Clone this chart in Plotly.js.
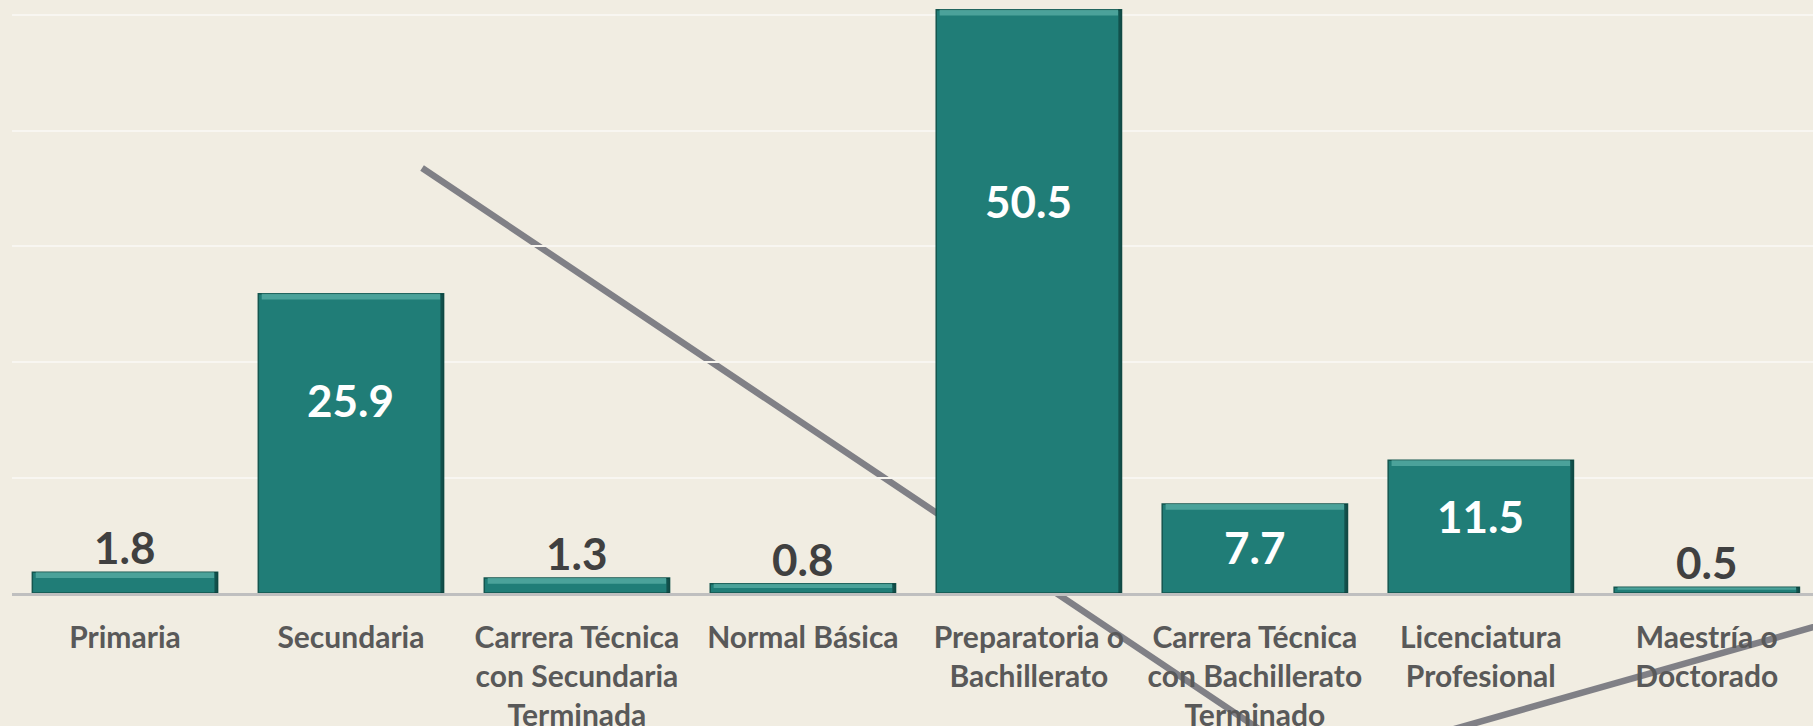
<!DOCTYPE html>
<html>
<head>
<meta charset="utf-8">
<script src="https://cdn.plot.ly/plotly-3.0.1.min.js"></script>
<style>
  html, body { margin: 0; padding: 0; background: #F1EDE2; }
  #chart { width: 1813px; height: 726px; }
</style>
</head>
<body>
<div id="chart"></div>
<script>
// ---- data ----
const categories = [
  "Primaria",
  "Secundaria",
  "Carrera Técnica<br>con Secundaria<br>Terminada",
  "Normal Básica",
  "Preparatoria o<br>Bachillerato",
  "Carrera Técnica<br>con Bachillerato<br>Terminado",
  "Licenciatura<br>Profesional",
  "Maestría o<br>Doctorado"
];
const values = [1.8, 25.9, 1.3, 0.8, 50.5, 7.7, 11.5, 0.5];
const valueLabels = ["1.8", "25.9", "1.3", "0.8", "50.5", "7.7", "11.5", "0.5"];

// ---- style ----
const BG = "#F1EDE2";
const BAR = "#207D77";
const FONT = "Lato, 'Open Sans', sans-serif";
const INSIDE_MIN = 5;
const BAR_W = 0.82;

const xIdx = categories.map((_, i) => i);

const bars = {
  type: "bar",
  x: xIdx,
  y: values,
  width: BAR_W,
  marker: { color: BAR, line: { color: "#15564F", width: 1.5 } },
  hoverinfo: "skip",
  showlegend: false
};

// bevel: light strip at the top of each bar
const strip = values.map(v => Math.min(0.5, v * 0.45));
const topBevel = {
  type: "bar",
  x: xIdx,
  y: strip,
  base: values.map((v, i) => v - strip[i]),
  width: BAR_W - 0.03,
  marker: { color: "rgba(90,175,166,0.75)", line: { width: 0 } },
  hoverinfo: "skip",
  showlegend: false
};
// bevel: dark strip on the right edge of each bar
const rightBevel = {
  type: "bar",
  x: xIdx,
  y: values,
  width: 0.014,
  offset: BAR_W / 2 - 0.014,
  marker: { color: "rgba(8,45,42,0.55)", line: { width: 0 } },
  hoverinfo: "skip",
  showlegend: false
};

const annotations = values.map((v, i) => {
  const inside = v >= INSIDE_MIN;
  return {
    x: i, xref: "x",
    y: inside ? v * 0.7 - 1.4 : v,
    yref: "y",
    text: "<b>" + valueLabels[i] + "</b>",
    showarrow: false,
    yanchor: inside ? "middle" : "bottom",
    yshift: inside ? 0 : -3,
    font: { family: FONT, size: 44, color: inside ? "#FFFFFF" : "#404040" }
  };
});

// decorative grey stroke drawn across the chart (paper coords)
const strokePath = "M 0.2277 0.7167 L 0.7246 -0.2951 L 1.0483 -0.016";

const layout = {
  width: 1813,
  height: 726,
  margin: { l: 12, r: 0, t: 0, b: 133, pad: 0 },
  paper_bgcolor: BG,
  plot_bgcolor: "rgba(0,0,0,0)",
  font: { family: FONT, color: "#595959" },
  barmode: "overlay",
  xaxis: {
    type: "linear",
    range: [-0.5, 7.47],
    tickmode: "array",
    tickvals: xIdx,
    ticktext: categories.map(c => "<b>" + c + "</b>"),
    tickfont: { family: FONT, size: 30, color: "#595959" },
    ticks: "",
    ticklabelstandoff: 16,
    showgrid: false,
    zeroline: false,
    showline: true,
    linecolor: "#BFBFBF",
    linewidth: 3,
    fixedrange: true
  },
  yaxis: {
    range: [0, 51.34],
    dtick: 10,
    showticklabels: false,
    showgrid: true,
    gridcolor: "#F8F6F1",
    gridwidth: 2,
    zeroline: false,
    showline: false,
    fixedrange: true
  },
  shapes: [{
    type: "path",
    xref: "paper", yref: "paper",
    path: strokePath,
    layer: "below",
    line: { color: "rgba(118,118,126,0.92)", width: 6.5 }
  }],
  annotations: annotations
};

Plotly.newPlot("chart", [bars, topBevel, rightBevel], layout, { displayModeBar: false, staticPlot: true });
</script>
</body>
</html>
